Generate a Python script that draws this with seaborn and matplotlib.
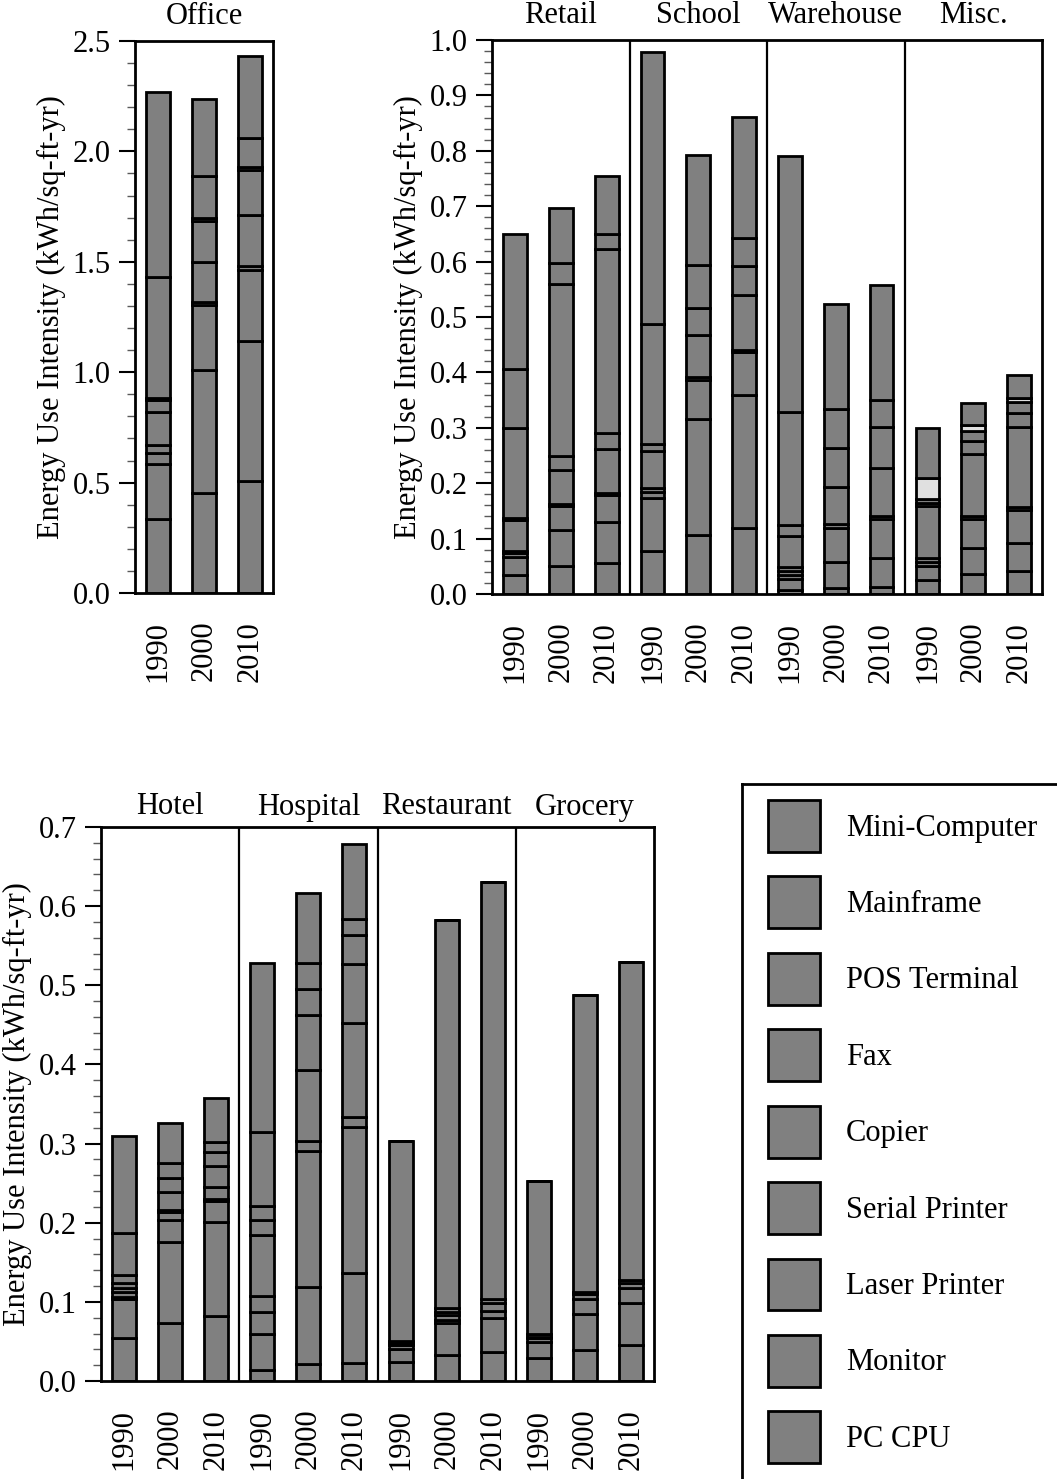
import numpy as np
import pandas as pd
import matplotlib
matplotlib.use("Agg")
import matplotlib.pyplot as plt
import seaborn as sns
from matplotlib.ticker import MultipleLocator, AutoMinorLocator, FormatStrFormatter
from matplotlib.patches import Patch

# ---------------- data ----------------
# stacking order, bottom -> top
DEVICES = ["PC CPU", "Monitor", "Laser Printer", "Serial Printer", "Copier",
           "Fax", "POS Terminal", "Mainframe", "Mini-Computer"]
YEARS = ["1990", "2000", "2010"]
YLABEL = "Energy Use Intensity (kWh/sq-ft-yr)"

# values per year (rows) per device (bottom -> top), kWh/sq-ft-yr
office = [[0.334, 0.251, 0.050, 0.034, 0.150, 0.054, 0.008, 0.552, 0.836],
          [0.452, 0.560, 0.292, 0.014, 0.179, 0.187, 0.013, 0.193, 0.347],
          [0.507, 0.635, 0.321, 0.017, 0.234, 0.201, 0.013, 0.134, 0.371]]
retail = [[0.035, 0.032, 0.007, 0.004, 0.056, 0.004, 0.161, 0.107, 0.243],
          [0.050, 0.066, 0.043, 0.004, 0.061, 0.026, 0.310, 0.037, 0.100],
          [0.056, 0.074, 0.049, 0.004, 0.079, 0.028, 0.333, 0.027, 0.105]]
school = [[0.077, 0.097, 0.010, 0.008, 0.066, 0.013, 0.000, 0.216, 0.491],
          [0.106, 0.210, 0.071, 0.004, 0.077, 0.049, 0.000, 0.076, 0.200],
          [0.119, 0.241, 0.077, 0.004, 0.099, 0.052, 0.000, 0.051, 0.218]]
warehouse = [[0.007, 0.020, 0.008, 0.007, 0.007, 0.056, 0.019, 0.204, 0.463],
             [0.011, 0.046, 0.063, 0.007, 0.066, 0.070, 0.000, 0.071, 0.190],
             [0.013, 0.052, 0.071, 0.004, 0.087, 0.074, 0.000, 0.050, 0.206]]
misc = [[0.025, 0.025, 0.008, 0.007, 0.094, 0.005, 0.008, 0.037, 0.091],
        [0.036, 0.047, 0.052, 0.006, 0.112, 0.023, 0.018, 0.011, 0.040],
        [0.042, 0.050, 0.060, 0.005, 0.145, 0.025, 0.020, 0.006, 0.042]]
hotel = [[0.054, 0.049, 0.003, 0.006, 0.005, 0.007, 0.010, 0.053, 0.123],
         [0.073, 0.103, 0.027, 0.010, 0.003, 0.023, 0.018, 0.018, 0.051],
         [0.082, 0.119, 0.027, 0.002, 0.015, 0.027, 0.017, 0.013, 0.055]]
hospital = [[0.014, 0.046, 0.027, 0.021, 0.076, 0.020, 0.017, 0.094, 0.213],
            [0.021, 0.098, 0.172, 0.012, 0.090, 0.069, 0.033, 0.033, 0.088],
            [0.023, 0.114, 0.184, 0.013, 0.118, 0.075, 0.036, 0.021, 0.094]]
restaurant = [[0.024, 0.017, 0.004, 0.003, 0.002, 0.000, 0.253, 0.000, 0.000],
              [0.033, 0.040, 0.004, 0.007, 0.003, 0.005, 0.491, 0.000, 0.000],
              [0.037, 0.043, 0.008, 0.010, 0.005, 0.000, 0.528, 0.000, 0.000]]
grocery = [[0.029, 0.020, 0.005, 0.002, 0.004, 0.000, 0.193, 0.000, 0.000],
           [0.039, 0.046, 0.019, 0.006, 0.002, 0.000, 0.376, 0.000, 0.000],
           [0.046, 0.052, 0.019, 0.007, 0.004, 0.000, 0.401, 0.000, 0.000]]

PANEL_TOP_LEFT = [("Office", office)]
PANEL_TOP_RIGHT = [("Retail", retail), ("School", school),
                   ("Warehouse", warehouse), ("Misc.", misc)]
PANEL_BOTTOM = [("Hotel", hotel), ("Hospital", hospital),
                ("Restaurant", restaurant), ("Grocery", grocery)]

# segments drawn in a lighter shade
HIGHLIGHT = {("Misc.", "Mainframe")}

# ---------------- style ----------------
sns.set_style("ticks")
plt.rcParams["font.family"] = ["Liberation Serif", "DejaVu Serif"]
plt.rcParams.update({
    "axes.edgecolor": "black", "xtick.color": "black", "ytick.color": "black",
    "text.color": "black", "axes.labelcolor": "black",
})
FS = 22
GRAY = "#808080"
LIGHT = "#e0e0e0"
W, H = 1057, 1479


def build_df(groups):
    rows = []
    for gi, (name, data) in enumerate(groups):
        for yi, year in enumerate(YEARS):
            cum = 0.0
            for d, v in zip(DEVICES, data[yi]):
                rows.append(dict(pos=gi * 3 + yi, group=name, year=year,
                                 device=d, value=v, bottom=cum))
                cum += v
    return pd.DataFrame(rows)


def draw_panel(ax, groups, ymax, ystep, title_off):
    df = build_df(groups)
    n = len(groups) * 3
    for d in DEVICES:
        sub = df[df.device == d].sort_values("pos")
        sns.barplot(data=sub, x="pos", y="value",
                    bottom=sub["bottom"].to_numpy(), native_scale=True,
                    width=0.52, color=GRAY, saturation=1, edgecolor="black",
                    linewidth=2, errorbar=None, ax=ax, zorder=2)
        cont = ax.containers[-1]
        for patch, g in zip(cont.patches, sub["group"]):
            if (g, d) in HIGHLIGHT:
                patch.set_facecolor(LIGHT)
    ax.set_xlim(-0.5, n - 0.5)
    ax.set_xticks(np.arange(n))
    ax.set_xticklabels(YEARS * len(groups), rotation=90, fontsize=FS)
    ax.tick_params(axis="x", length=0, pad=20)
    ax.set_ylim(0, ymax)
    ax.yaxis.set_major_locator(MultipleLocator(ystep))
    ax.yaxis.set_minor_locator(AutoMinorLocator(5))
    ax.yaxis.set_major_formatter(FormatStrFormatter("%.1f"))
    ax.tick_params(axis="y", which="major", length=11.5, width=1.5,
                   labelsize=FS, pad=6, direction="out")
    ax.tick_params(axis="y", which="minor", length=5.5, width=1,
                   direction="out", color="0.35")
    for sp in ax.spines.values():
        sp.set_visible(True)
        sp.set_linewidth(2)
        sp.set_color("black")
    for k in range(1, len(groups)):
        ax.axvline(3 * k - 0.5, color="black", lw=1.6, zorder=3)
    for gi, (name, _) in enumerate(groups):
        ax.annotate(name, xy=(gi * 3 + 1, 1), xycoords=("data", "axes fraction"),
                    xytext=(0, title_off), textcoords="offset points",
                    ha="center", va="baseline", fontsize=FS)
    ax.set_xlabel("")
    ax.set_ylabel(YLABEL, fontsize=FS, labelpad=5)


def rect(l, t, r, b):
    return [l / W, 1 - b / H, (r - l) / W, (b - t) / H]


fig = plt.figure(figsize=(W / 100, H / 100), dpi=100)
ax1 = fig.add_axes(rect(135, 41, 273, 593))
ax2 = fig.add_axes(rect(492, 40, 1042, 594))
ax3 = fig.add_axes(rect(101, 827, 654, 1381))

draw_panel(ax1, PANEL_TOP_LEFT, 2.5, 0.5, 12)
draw_panel(ax2, PANEL_TOP_RIGHT, 1.0, 0.1, 12)
draw_panel(ax3, PANEL_BOTTOM, 0.7, 0.1, 9)

# legend box (extends past figure edge)
axl = fig.add_axes(rect(742, 784, 1200, 1600))
axl.set_xticks([])
axl.set_yticks([])
axl.set_facecolor("none")
for sp in axl.spines.values():
    sp.set_linewidth(2)
    sp.set_color("black")
handles = [Patch(facecolor=GRAY, edgecolor="black", linewidth=2, label=d)
           for d in reversed(DEVICES)]
fig.legend(handles=handles, loc="upper left",
           bbox_to_anchor=(768 / W, 1 - 800 / H), frameon=False,
           borderpad=0, borderaxespad=0, handlelength=1.70, handleheight=2.24,
           labelspacing=0.80, handletextpad=0.85, fontsize=FS)

fig.savefig("out.png", dpi=100)
